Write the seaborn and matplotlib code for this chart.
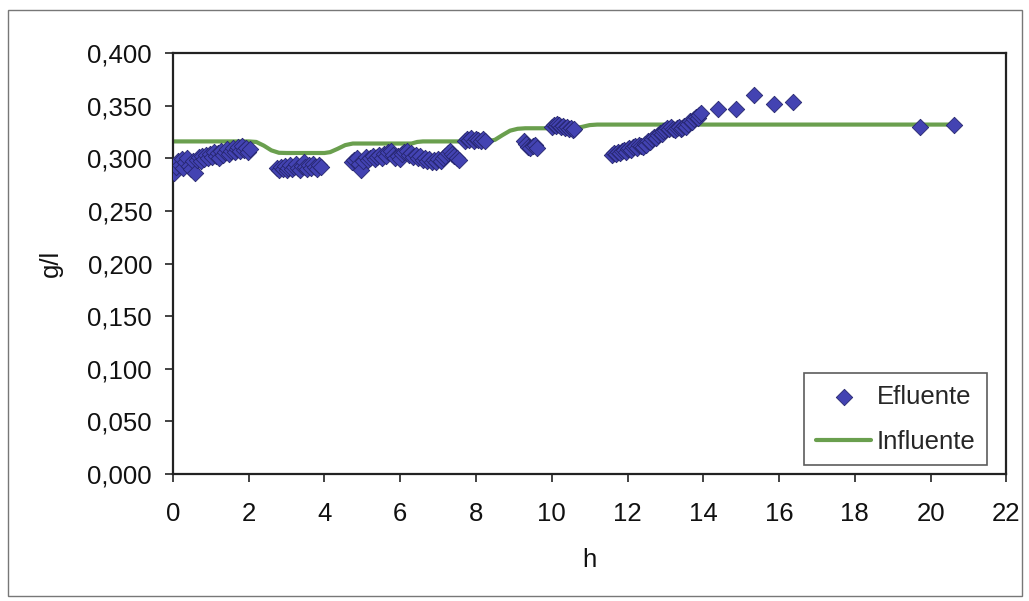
import matplotlib
matplotlib.use("Agg")
import matplotlib.pyplot as plt
from matplotlib.patches import Rectangle
from matplotlib.ticker import FuncFormatter
import seaborn as sns
import pandas as pd

# Effluent concentration (g/l) measured over time (h)
efl_h = [
    # run 1
    0.03, 0.08, 0.13, 0.18, 0.23, 0.28, 0.33, 0.38, 0.43, 0.48,
    0.53, 0.58, 0.63, 0.68, 0.73, 0.78, 0.83, 0.88, 0.93, 0.98,
    1.03, 1.08, 1.13, 1.18, 1.23, 1.28, 1.33, 1.38, 1.43, 1.48,
    1.53, 1.58, 1.63, 1.68, 1.73, 1.78, 1.83, 1.88, 1.93, 1.98, 2.03,
    # run 2
    2.75, 2.80, 2.85, 2.90, 2.95, 3.00, 3.05, 3.10, 3.15, 3.20,
    3.25, 3.30, 3.35, 3.40, 3.45, 3.50, 3.55, 3.60, 3.65, 3.70,
    3.75, 3.80, 3.85, 3.90,
    # run 3
    4.73, 4.79, 4.85, 4.91, 4.97, 5.03, 5.09, 5.15, 5.21, 5.27,
    5.33, 5.39, 5.45, 5.51, 5.57, 5.63, 5.69, 5.75, 5.81, 5.87,
    5.93, 5.99, 6.05, 6.11, 6.17, 6.23, 6.29, 6.35, 6.41, 6.47,
    6.53, 6.59, 6.65, 6.71, 6.77, 6.83, 6.89, 6.95, 7.01, 7.07,
    7.13, 7.19, 7.25, 7.31, 7.37, 7.43, 7.49, 7.55,
    # run 4
    7.70, 7.76, 7.82, 7.88, 7.94, 8.00, 8.06, 8.12, 8.18, 8.24,
    # run 5
    9.28, 9.33, 9.38, 9.43, 9.50, 9.56, 9.62,
    # run 6
    10.00, 10.05, 10.10, 10.15, 10.20, 10.25, 10.30, 10.35, 10.40, 10.45,
    10.50, 10.55, 10.60,
    # run 7
    11.60, 11.65, 11.70, 11.75, 11.80, 11.85, 11.90, 11.95, 12.00, 12.05,
    12.10, 12.15, 12.20, 12.25, 12.30, 12.35, 12.40, 12.45, 12.50, 12.55,
    12.60, 12.65, 12.70, 12.75, 12.80, 12.85, 12.90, 12.95, 13.00, 13.05,
    13.10, 13.15, 13.20, 13.25, 13.30, 13.35, 13.40, 13.45, 13.50, 13.55,
    13.60, 13.65, 13.70, 13.75, 13.80, 13.85, 13.90, 13.95,
    # isolated samples
    14.40, 14.86, 15.35, 15.86, 16.36, 19.73, 20.61,
]
efl_gl = [
    0.286, 0.292, 0.297, 0.294, 0.299, 0.291, 0.296, 0.300, 0.293, 0.290,
    0.297, 0.286, 0.298, 0.301, 0.297, 0.302, 0.299, 0.303, 0.300, 0.304,
    0.301, 0.306, 0.302, 0.305, 0.300, 0.307, 0.303, 0.306, 0.309, 0.304,
    0.307, 0.310, 0.306, 0.309, 0.311, 0.307, 0.312, 0.308, 0.310, 0.306, 0.309,
    0.291, 0.289, 0.292, 0.290, 0.293, 0.289, 0.291, 0.294, 0.290, 0.292,
    0.295, 0.291, 0.289, 0.293, 0.296, 0.292, 0.290, 0.294, 0.291, 0.295,
    0.292, 0.290, 0.294, 0.292,
    0.296, 0.298, 0.300, 0.295, 0.289, 0.297, 0.301, 0.298, 0.300, 0.302,
    0.299, 0.301, 0.303, 0.300, 0.304, 0.302, 0.306, 0.307, 0.303, 0.300,
    0.302, 0.299, 0.304, 0.306, 0.307, 0.303, 0.305, 0.301, 0.303, 0.300,
    0.302, 0.298, 0.300, 0.297, 0.299, 0.296, 0.298, 0.296, 0.299, 0.297,
    0.300, 0.302, 0.305, 0.307, 0.304, 0.302, 0.300, 0.298,
    0.316, 0.318, 0.317, 0.319, 0.316, 0.318, 0.317, 0.316, 0.318, 0.316,
    0.316, 0.314, 0.311, 0.310, 0.312, 0.313, 0.310,
    0.330, 0.332, 0.331, 0.333, 0.332, 0.330, 0.331, 0.329, 0.330, 0.328,
    0.329, 0.327, 0.328,
    0.303, 0.305, 0.304, 0.306, 0.305, 0.307, 0.308, 0.306, 0.309, 0.310,
    0.308, 0.311, 0.312, 0.310, 0.313, 0.312, 0.311, 0.314, 0.313, 0.316,
    0.315, 0.318, 0.320, 0.319, 0.322, 0.324, 0.323, 0.326, 0.327, 0.329,
    0.328, 0.330, 0.328, 0.327, 0.329, 0.330, 0.328, 0.329, 0.331, 0.330,
    0.333, 0.335, 0.334, 0.337, 0.339, 0.338, 0.341, 0.343,
    0.347, 0.347, 0.360, 0.352, 0.353, 0.330, 0.332,
]

# Influent concentration (g/l)
inf_h = [0.0, 2.0, 2.2, 2.4, 2.6, 2.8, 3.0, 4.0, 4.15, 4.35, 4.55, 4.75,
         6.3, 6.45, 6.6, 8.3, 8.5, 8.7, 8.9, 9.1, 9.3, 10.6, 10.8, 11.0,
         11.2, 20.7]
inf_gl = [0.316, 0.316, 0.3155, 0.312, 0.3075, 0.3052, 0.305, 0.305, 0.3058,
          0.309, 0.3125, 0.314, 0.314, 0.3155, 0.316, 0.316, 0.3175, 0.322,
          0.3262, 0.328, 0.3285, 0.3285, 0.3298, 0.3315, 0.332, 0.332]

y_ticks = [0.0, 0.05, 0.10, 0.15, 0.20, 0.25, 0.30, 0.35, 0.40]
x_ticks = [0, 2, 4, 6, 8, 10, 12, 14, 16, 18, 20, 22]

efl = pd.DataFrame({"h": efl_h, "g/l": efl_gl})
inf = pd.DataFrame({"h": inf_h, "g/l": inf_gl})

sns.set_theme(style="white")
plt.rcParams["font.family"] = ["Liberation Sans", "DejaVu Sans"]

fig = plt.figure(figsize=(10.29, 6.01), dpi=100)
ax = fig.add_axes([0.168, 0.2113, 0.81, 0.7005])

sns.lineplot(data=inf, x="h", y="g/l", ax=ax, color="#6a9f4e", linewidth=3.0,
             sort=False, estimator=None, label="Influente", zorder=2)
sns.scatterplot(data=efl, x="h", y="g/l", ax=ax, marker="D", s=70,
                color="#4343b2", edgecolor="#26266e", linewidth=0.6,
                label="Efluente", zorder=3)

ax.set_xlim(0, 22)
ax.set_ylim(0, 0.4)
ax.set_xticks(x_ticks)
ax.set_yticks(y_ticks)
ax.yaxis.set_major_formatter(FuncFormatter(lambda v, p: f"{v:.3f}".replace(".", ",")))
ax.xaxis.set_major_formatter(FuncFormatter(lambda v, p: f"{int(round(v))}"))

for s in ax.spines.values():
    s.set_color("#222222")
    s.set_linewidth(1.6)

ax.tick_params(axis="both", which="major", direction="out", length=6, width=1.2,
               color="#222222", labelsize=18.5, labelcolor="#111111")
ax.tick_params(axis="x", pad=14, bottom=True)
ax.tick_params(axis="y", pad=9, left=True)

ax.set_xlabel("h", fontsize=18.5, color="#111111", labelpad=16)
ax.set_ylabel("g/l", fontsize=18.5, color="#111111", labelpad=18)

# legend: markers first, then the influent line
handles, labels = ax.get_legend_handles_labels()
order = [labels.index("Efluente"), labels.index("Influente")]
leg = ax.legend([handles[i] for i in order], [labels[i] for i in order],
                loc="lower right", bbox_to_anchor=(0.977, 0.021), borderaxespad=0,
                fontsize=18.5, frameon=True, fancybox=False, edgecolor="#333333",
                handlelength=2.15, handletextpad=0.22, labelspacing=0.8,
                borderpad=0.45)
leg.get_frame().set_linewidth(1.2)

# outer chart frame
fig.patches.append(Rectangle((0.008, 0.008), 0.985, 0.975, transform=fig.transFigure,
                             fill=False, edgecolor="#777777", linewidth=1.0))

fig.savefig("out.png", dpi=100)
